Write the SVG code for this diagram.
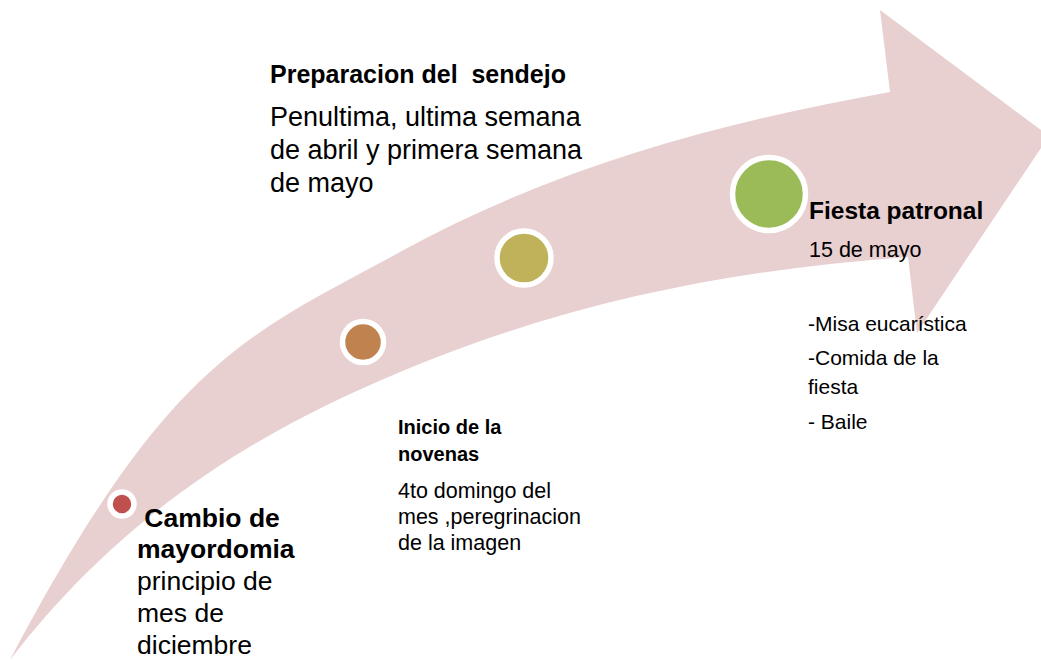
<svg xmlns="http://www.w3.org/2000/svg" width="1041" height="660" viewBox="0 0 1041 660">
<style>
text{font-family:"Liberation Sans",Arial,sans-serif;fill:#000}
.b{font-weight:bold}
.dot{stroke:#fff;stroke-width:5.5}
</style>
<rect width="1041" height="660" fill="#fff"/>
<g id="arrow">
<path fill="#E8CFD0" d="M10,660 C170,356 250,334.5 400,252 C560,164 730,120.8 890,92 L880,10 L1049,136 L917,333 L908,257 C738,269 570,300.6 400,372 C270,426.6 130,504 10,660 Z"/>
</g>
<g id="connectors"></g>
<g id="node-cambio">
<circle class="dot" cx="122" cy="504" r="12" fill="#C0504D"/>
<text class="b" font-size="26.5" x="137" y="527" xml:space="preserve"> Cambio de</text>
<text class="b" font-size="26.5" x="137" y="558">mayordomia</text>
<text font-size="26.5" x="137" y="590">principio de</text>
<text font-size="26.5" x="137" y="622">mes de</text>
<text font-size="26.5" x="137" y="654">diciembre</text>
</g>
<g id="node-novenas">
<circle class="dot" cx="363" cy="342" r="20.5" fill="#C0834F"/>
<text class="b" font-size="20" x="398" y="434">Inicio de la</text>
<text class="b" font-size="20" x="398" y="461">novenas</text>
<text font-size="21.5" x="398" y="498">4to domingo del</text>
<text font-size="21.5" x="398" y="524">mes ,peregrinacion</text>
<text font-size="21.5" x="398" y="550">de la imagen</text>
</g>
<g id="node-sendejo">
<circle class="dot" cx="524" cy="258" r="27" fill="#BFB25A"/>
<text class="b" font-size="25" x="270" y="83" xml:space="preserve">Preparacion del  sendejo</text>
<text font-size="27" x="270" y="126">Penultima, ultima semana</text>
<text font-size="27" x="270" y="159">de abril y primera semana</text>
<text font-size="27" x="270" y="192">de mayo</text>
</g>
<g id="node-fiesta">
<circle class="dot" cx="769" cy="194" r="36.5" fill="#9BBB59"/>
<text class="b" font-size="24.5" x="809" y="219">Fiesta patronal</text>
<text font-size="21.5" x="809" y="257">15 de mayo</text>
<text font-size="21" x="808" y="331">-Misa eucarística</text>
<text font-size="21" x="808" y="365">-Comida de la</text>
<text font-size="21" x="808" y="394">fiesta</text>
<text font-size="21" x="808" y="429">- Baile</text>
</g>
</svg>
